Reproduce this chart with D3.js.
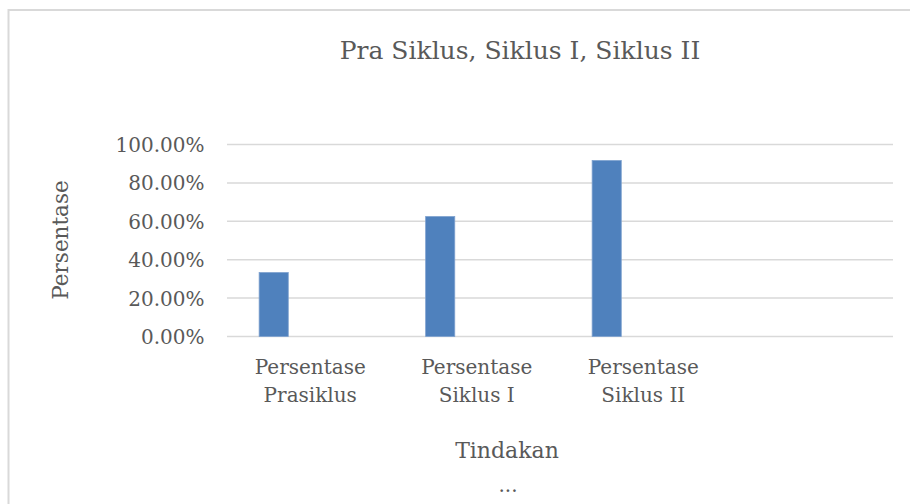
<!DOCTYPE html>
<html>
<head>
<meta charset="utf-8">
<script src="https://cdn.jsdelivr.net/npm/d3@7"></script>
<style>
  body { margin: 0; background: #fff; }
  text { font-family: "DejaVu Serif", serif; fill: #595959; }
</style>
</head>
<body>
<div id="chart"></div>
<script>
// chart data
var categories = ["Persentase Prasiklus", "Persentase Siklus I", "Persentase Siklus II", ""];
var values = [0.3333, 0.625, 0.9167, null];
var yTicks = [0, 0.2, 0.4, 0.6, 0.8, 1.0];
var titleText = "Pra Siklus, Siklus I, Siklus II";
var xTitle = "Tindakan";
var yTitle = "Persentase";

var W = 910, H = 504;
var plot = {left: 227, right: 893, top: 144.5, bottom: 336.5};

var svg = d3.select("#chart").append("svg")
    .attr("width", W)
    .attr("height", H);

// outer chart border (bottom / right run off the picture)
svg.append("rect")
    .attr("x", 8.5).attr("y", 10)
    .attr("width", 940).attr("height", 540)
    .style("fill", "none")
    .style("stroke", "#d9d9d9")
    .style("stroke-width", 2);

var x = d3.scaleBand().domain(categories).range([plot.left, plot.right]);
var y = d3.scaleLinear().domain([0, 1]).range([plot.bottom, plot.top]);

// gridlines
svg.append("g")
    .selectAll("line")
    .data(yTicks)
    .join("line")
    .attr("x1", plot.left).attr("x2", plot.right)
    .attr("y1", d => y(d)).attr("y2", d => y(d))
    .style("stroke", "#d9d9d9")
    .style("stroke-width", 1.5);

// y tick labels
var yAxis = d3.axisLeft(y).tickValues(yTicks)
    .tickFormat(d3.format(".2%"))
    .tickSize(0).tickPadding(0);
var yg = svg.append("g").attr("transform", "translate(204.5,0)").call(yAxis);
yg.select(".domain").remove();
yg.selectAll("text")
    .attr("dy", "0.35em")
    .style("font-size", "20px")
    .style("font-family", "DejaVu Serif")
    .style("fill", "#595959");

// bars
svg.append("g")
    .selectAll("rect")
    .data(categories.map((c, i) => ({cat: c, v: values[i]})).filter(d => d.v != null))
    .join("rect")
    .attr("x", d => x(d.cat) + x.bandwidth() * 0.193)
    .attr("width", x.bandwidth() * 0.175)
    .attr("y", d => y(d.v))
    .attr("height", d => y(0) - y(d.v))
    .style("fill", "#4f81bd")
    .style("stroke", "#7fa2cf")
    .style("stroke-width", 0.8);

// category labels (two lines each)
var cl = svg.append("g").selectAll("text")
    .data(categories.filter(c => c !== ""))
    .join("text")
    .attr("text-anchor", "middle")
    .style("font-size", "20px");
cl.each(function(d) {
    var parts = d.split(" ");
    var first = parts.shift();
    var t = d3.select(this);
    t.append("tspan").attr("x", x(d) + x.bandwidth() / 2).attr("y", 373.5).text(first);
    t.append("tspan").attr("x", x(d) + x.bandwidth() / 2).attr("y", 401.5).text(parts.join(" "));
});

// titles
svg.append("text")
    .attr("x", 520).attr("y", 59)
    .attr("text-anchor", "middle")
    .style("font-size", "25px")
    .text(titleText);

svg.append("text")
    .attr("x", 507).attr("y", 458)
    .attr("text-anchor", "middle")
    .style("font-size", "22px")
    .text(xTitle);

svg.append("text")
    .attr("x", 508).attr("y", 492)
    .attr("text-anchor", "middle")
    .style("font-size", "20px")
    .text("...");

svg.append("text")
    .attr("transform", "translate(68,240) rotate(-90)")
    .attr("text-anchor", "middle")
    .style("font-size", "21.5px")
    .text(yTitle);
</script>
</body>
</html>
